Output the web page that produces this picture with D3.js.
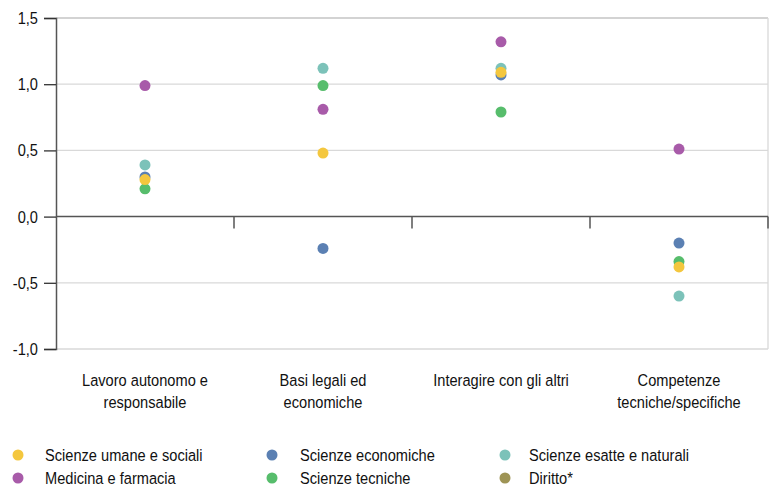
<!DOCTYPE html>
<html><head><meta charset="utf-8">
<script src="https://cdn.jsdelivr.net/npm/d3@7"></script>
<style>
body{margin:0;background:#fff;}
text{font-family:"Liberation Sans",Arial,sans-serif;fill:#111;}
</style></head><body>
<svg id="c" width="774" height="486"></svg>
<script>
const categories = [["Lavoro autonomo e","responsabile"],["Basi legali ed","economiche"],["Interagire con gli altri"],["Competenze","tecniche/specifiche"]];
const seriesNames = ["Scienze economiche","Scienze esatte e naturali","Scienze tecniche","Medicina e farmacia","Diritto*","Scienze umane e sociali"];
const seriesColors = ["#5b80b3","#7cc2b9","#57bd6c","#a85ba9","#9e9455","#f4c73e"];
const economiche = [0.30,-0.24,1.07,-0.20];
const esatte = [0.39,1.12,1.12,-0.60];
const tecniche = [0.21,0.99,0.79,-0.34];
const medicina = [0.99,0.81,1.32,0.51];
const diritto = [null,null,null,null];
const umane = [0.28,0.48,1.09,-0.38];
const seriesValues = [economiche,esatte,tecniche,medicina,diritto,umane];
const yTicks = [-1.0,-0.5,0,0.5,1.0,1.5];
const legendOrder = ["Scienze umane e sociali","Scienze economiche","Scienze esatte e naturali","Medicina e farmacia","Scienze tecniche","Diritto*"];

(function(){
const SX = 0.86, FS = 17;
const svg = d3.select("#c");
const mL=56,mR=768,mT=18,mB=349;
const x = d3.scaleBand().domain(d3.range(categories.length)).range([mL,mR]);
const y = d3.scaleLinear().domain([-1,1.5]).range([mB,mT]);

// gridlines
svg.append("g").selectAll("line").data(yTicks.filter(d=>d!==0)).join("line")
 .attr("x1",mL).attr("x2",mR).attr("y1",d=>y(d)).attr("y2",d=>y(d))
 .attr("stroke",d=>d===1.5?"#c4c4c4":"#d9d9d9").attr("stroke-width",1.3);
// right border
svg.append("line").attr("x1",mR).attr("x2",mR).attr("y1",y(1.5)).attr("y2",y(-1))
 .attr("stroke","#d9d9d9").attr("stroke-width",1.3);

// y axis
const yAxis = d3.axisLeft(y).tickValues(yTicks).tickSize(12).tickPadding(6)
 .tickFormat(d=>d3.format(".1f")(d).replace(".",",").replace("−","-"));
const gy = svg.append("g").attr("transform",`translate(${mL},0)`).call(yAxis);
gy.select(".domain").attr("stroke","#555").attr("stroke-width",1.5);
gy.selectAll(".tick line").attr("stroke","#333").attr("stroke-width",1.3);
gy.selectAll("text").attr("font-size",FS).attr("fill","#111")
 .attr("x",-18/SX).attr("transform",`scale(${SX},1)`)
 .style("font-family",'"Liberation Sans",Arial,sans-serif');

// x axis at zero
const bounds = d3.range(1,categories.length+1).map(i=>mL+x.step()*i);
svg.append("line").attr("x1",mL).attr("x2",mR).attr("y1",y(0)).attr("y2",y(0))
 .attr("stroke","#555").attr("stroke-width",1.5);
svg.append("g").selectAll("line").data(bounds).join("line")
 .attr("x1",d=>d).attr("x2",d=>d).attr("y1",y(0)).attr("y2",y(0)+12)
 .attr("stroke","#555").attr("stroke-width",1.5);

// category labels
const cl = svg.append("g").selectAll("text").data(categories).join("text")
 .attr("transform",(d,i)=>`translate(${x(i)+x.bandwidth()/2},386) scale(${SX},1)`)
 .attr("text-anchor","middle").attr("font-size",FS);
cl.selectAll("tspan").data(d=>d).join("tspan")
 .attr("x",0).attr("y",(d,i)=>i*22).text(d=>d);

// points
seriesValues.forEach((vals,si)=>{
  svg.append("g").selectAll("circle").data(vals.map((v,i)=>({v,i})).filter(d=>d.v!==null)).join("circle")
   .attr("cx",d=>x(d.i)+x.bandwidth()/2).attr("cy",d=>y(d.v)).attr("r",5.5)
   .attr("fill",seriesColors[si]);
});

// legend
const legX=[18,272,505], legTX=[45,300,529], legY=[455,478];
const lg = svg.append("g").selectAll("g").data(legendOrder).join("g")
 .attr("transform",(d,i)=>`translate(0,${legY[Math.floor(i/3)]})`);
lg.append("circle").attr("cx",(d,i)=>legX[i%3]).attr("cy",0).attr("r",5.5)
 .attr("fill",d=>seriesColors[seriesNames.indexOf(d)]);
lg.append("text").attr("transform",(d,i)=>`translate(${legTX[i%3]},6) scale(${SX},1)`)
 .attr("font-size",FS).text(d=>d);
})();
</script></body></html>
